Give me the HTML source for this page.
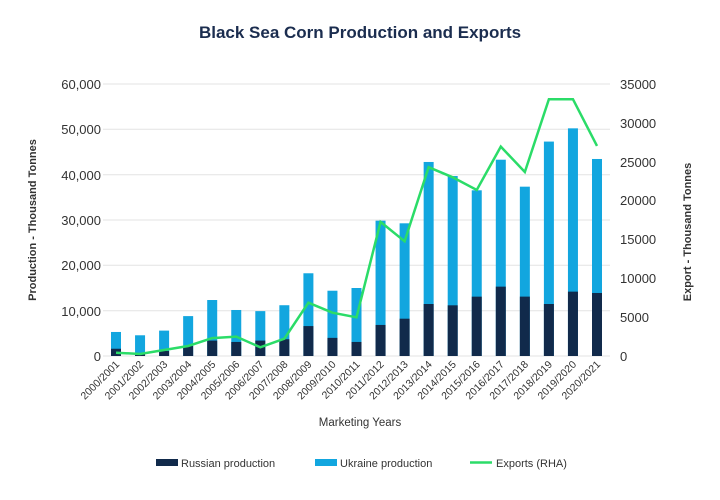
<!DOCTYPE html>
<html><head><meta charset="utf-8"><style>
html,body{margin:0;padding:0;background:#fff}
svg{display:block;font-family:"Liberation Sans",sans-serif}
</style></head><body>
<svg width="720" height="500" viewBox="0 0 720 500" xmlns="http://www.w3.org/2000/svg">
<text x="360" y="38" text-anchor="middle" font-size="17" font-weight="bold" fill="#1b2d4f">Black Sea Corn Production and Exports</text>
<g stroke="#e3e3e3" stroke-width="1">
<line x1="103" x2="610" y1="84" y2="84"/><line x1="103" x2="610" y1="129.3" y2="129.3"/>
<line x1="103" x2="610" y1="174.7" y2="174.7"/><line x1="103" x2="610" y1="220" y2="220"/>
<line x1="103" x2="610" y1="265.3" y2="265.3"/><line x1="103" x2="610" y1="310.7" y2="310.7"/>
<line x1="103" x2="610" y1="356" y2="356"/>
</g>
<g font-size="13" fill="#333" text-anchor="end">
<text x="101" y="89">60,000</text><text x="101" y="134">50,000</text><text x="101" y="180">40,000</text>
<text x="101" y="225">30,000</text><text x="101" y="270">20,000</text><text x="101" y="316">10,000</text><text x="101" y="361">0</text>
</g>
<g font-size="13" fill="#333" text-anchor="start">
<text x="620" y="89">35000</text><text x="620" y="128">30000</text><text x="620" y="167">25000</text>
<text x="620" y="205">20000</text><text x="620" y="244">15000</text><text x="620" y="283">10000</text>
<text x="620" y="322">5000</text><text x="620" y="361">0</text>
</g>
<text transform="translate(36,220) rotate(-90)" text-anchor="middle" font-size="11" font-weight="bold" fill="#333">Production - Thousand Tonnes</text>
<text transform="translate(691,232) rotate(-90)" text-anchor="middle" font-size="11" font-weight="bold" fill="#333">Export - Thousand Tonnes</text>
<g id="bars"></g>
<g id="labels" font-size="10.5" fill="#333"></g>
<polyline id="line" fill="none" stroke="#2bdc68" stroke-width="2.5" stroke-linejoin="miter"/>
<text x="360" y="426" text-anchor="middle" font-size="11.5" fill="#333">Marketing Years</text>
<rect x="156" y="459" width="22" height="7" fill="#112a4b"/>
<text x="181" y="467" font-size="11" fill="#333">Russian production</text>
<rect x="315" y="459" width="22" height="7" fill="#12a6df"/>
<text x="340" y="467" font-size="11" fill="#333">Ukraine production</text>
<line x1="470" x2="492" y1="462.5" y2="462.5" stroke="#2bdc68" stroke-width="2.5"/>
<text x="496" y="467" font-size="11" fill="#333">Exports (RHA)</text>
<script>
var tot=[5300,4570,5600,8800,12350,10150,9900,11200,18250,14400,15000,29850,29270,42800,39700,36550,43300,37350,47300,50220,43460];
var rus=[1600,400,1100,2200,3400,3100,3400,3700,6600,4000,3100,6850,8230,11470,11180,13090,15300,13100,11470,14200,13900];
var exp=[420,260,770,1290,2300,2490,1120,2230,6860,5570,4980,17250,14760,24290,23000,21360,26940,23680,33040,33040,27030];
var ns="http://www.w3.org/2000/svg",b=document.getElementById("bars"),lb=document.getElementById("labels"),pts=[];
function yl(v){return 356-v*272/60000}function yr(v){return 356-v*272/35000}
for(var i=0;i<21;i++){var cx=116+i*24.05;
var r=document.createElementNS(ns,"rect");r.setAttribute("x",cx-5);r.setAttribute("width",10);r.setAttribute("y",yl(tot[i]));r.setAttribute("height",356-yl(tot[i]));r.setAttribute("fill","#12a6df");b.appendChild(r);
r=document.createElementNS(ns,"rect");r.setAttribute("x",cx-5);r.setAttribute("width",10);r.setAttribute("y",yl(rus[i]));r.setAttribute("height",356-yl(rus[i]));r.setAttribute("fill","#112a4b");b.appendChild(r);
var t=document.createElementNS(ns,"text");t.setAttribute("text-anchor","end");t.setAttribute("transform","translate("+(cx+4)+",365) rotate(-45)");
var y1=2000+i;t.textContent=y1+"/"+(y1+1);lb.appendChild(t);
pts.push(cx+","+yr(exp[i]).toFixed(1));}
document.getElementById("line").setAttribute("points",pts.join(" "));
</script>
</svg>
</body></html>
